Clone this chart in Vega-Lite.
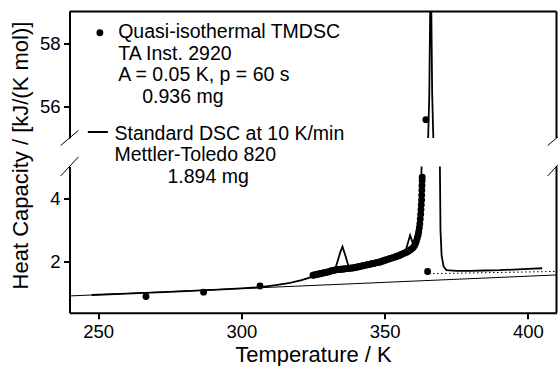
{
  "$schema": "https://vega.github.io/schema/vega-lite/v6.json",
  "padding": {"left": 8.5, "top": 10.5, "right": 0, "bottom": 0},
  "bounds": "flush",
  "spacing": 28,
  "config": {
    "font": "Liberation Sans",
    "view": {"stroke": null},
    "axis": {
      "grid": false,
      "labelFont": "Liberation Sans",
      "titleFont": "Liberation Sans",
      "labelColor": "black",
      "titleColor": "black",
      "domainColor": "black",
      "tickColor": "black",
      "domainWidth": 2,
      "tickWidth": 2,
      "tickSize": 6,
      "labelFontSize": 18.5,
      "labelPadding": 3.5,
      "titleFontSize": 22,
      "titleFontWeight": "normal"
    }
  },
  "datasets": {
    "dsc": [
      {"T": 247.7, "Cp": 0.96}, {"T": 260, "Cp": 1.0}, {"T": 275, "Cp": 1.06}, {"T": 290, "Cp": 1.12},
      {"T": 300, "Cp": 1.17}, {"T": 306, "Cp": 1.2}, {"T": 312, "Cp": 1.27}, {"T": 317, "Cp": 1.34},
      {"T": 321, "Cp": 1.43}, {"T": 325, "Cp": 1.54}, {"T": 328, "Cp": 1.62}, {"T": 331.8, "Cp": 1.74},
      {"T": 333, "Cp": 1.85}, {"T": 334.5, "Cp": 2.3}, {"T": 335.3, "Cp": 2.48}, {"T": 336.3, "Cp": 2.2},
      {"T": 337.6, "Cp": 1.8}, {"T": 339, "Cp": 1.79}, {"T": 342, "Cp": 1.84}, {"T": 346, "Cp": 1.92},
      {"T": 350, "Cp": 2.01}, {"T": 354, "Cp": 2.12}, {"T": 357.5, "Cp": 2.4}, {"T": 358.9, "Cp": 2.84},
      {"T": 360.1, "Cp": 2.52}, {"T": 361, "Cp": 2.62}, {"T": 361.8, "Cp": 2.9}, {"T": 362.3, "Cp": 3.4},
      {"T": 362.6, "Cp": 4.0}, {"T": 362.9, "Cp": 5.0}, {"T": 365.2, "Cp": 55}, {"T": 365.6, "Cp": 56.4},
      {"T": 365.95, "Cp": 59.5}, {"T": 366.1, "Cp": 80}, {"T": 366.25, "Cp": 59.5}, {"T": 366.6, "Cp": 56.4},
      {"T": 367.0, "Cp": 55}, {"T": 369.3, "Cp": 5}, {"T": 369.5, "Cp": 3}, {"T": 369.9, "Cp": 2.2},
      {"T": 370.6, "Cp": 1.85}, {"T": 371.6, "Cp": 1.74}, {"T": 375, "Cp": 1.72}, {"T": 380, "Cp": 1.72},
      {"T": 385, "Cp": 1.73}, {"T": 390, "Cp": 1.74}, {"T": 395, "Cp": 1.76}, {"T": 400, "Cp": 1.78},
      {"T": 405, "Cp": 1.8}
    ],
    "tmdsc": [
      {"T": 266.7, "Cp": 0.91}, {"T": 286.8, "Cp": 1.05}, {"T": 306.5, "Cp": 1.24},
      {"T": 325.0, "Cp": 1.58}, {"T": 325.5, "Cp": 1.59}, {"T": 326.0, "Cp": 1.6}, {"T": 326.5, "Cp": 1.61},
      {"T": 327.0, "Cp": 1.62}, {"T": 327.5, "Cp": 1.63}, {"T": 328.0, "Cp": 1.64}, {"T": 328.5, "Cp": 1.65},
      {"T": 329.0, "Cp": 1.66}, {"T": 329.5, "Cp": 1.67}, {"T": 330.0, "Cp": 1.68}, {"T": 330.5, "Cp": 1.69},
      {"T": 331.0, "Cp": 1.71}, {"T": 331.5, "Cp": 1.72}, {"T": 332.0, "Cp": 1.73}, {"T": 332.5, "Cp": 1.74},
      {"T": 333.0, "Cp": 1.75}, {"T": 333.5, "Cp": 1.76}, {"T": 334.0, "Cp": 1.76}, {"T": 334.5, "Cp": 1.77},
      {"T": 335.0, "Cp": 1.77}, {"T": 335.5, "Cp": 1.78}, {"T": 336.0, "Cp": 1.78}, {"T": 336.5, "Cp": 1.79},
      {"T": 337.0, "Cp": 1.79}, {"T": 337.5, "Cp": 1.8}, {"T": 338.0, "Cp": 1.8}, {"T": 338.5, "Cp": 1.81},
      {"T": 339.0, "Cp": 1.81}, {"T": 339.5, "Cp": 1.82}, {"T": 340.0, "Cp": 1.83}, {"T": 340.5, "Cp": 1.84},
      {"T": 341.0, "Cp": 1.85}, {"T": 341.5, "Cp": 1.86}, {"T": 342.0, "Cp": 1.87}, {"T": 342.5, "Cp": 1.88},
      {"T": 343.0, "Cp": 1.89}, {"T": 343.5, "Cp": 1.9}, {"T": 344.0, "Cp": 1.91}, {"T": 344.5, "Cp": 1.92},
      {"T": 345.0, "Cp": 1.93}, {"T": 345.5, "Cp": 1.94}, {"T": 346.0, "Cp": 1.95}, {"T": 346.5, "Cp": 1.96},
      {"T": 347.0, "Cp": 1.97}, {"T": 347.5, "Cp": 1.98}, {"T": 348.0, "Cp": 1.99}, {"T": 348.5, "Cp": 2.0},
      {"T": 349.0, "Cp": 2.02}, {"T": 349.5, "Cp": 2.03}, {"T": 350.0, "Cp": 2.05}, {"T": 350.5, "Cp": 2.06},
      {"T": 351.0, "Cp": 2.08}, {"T": 351.5, "Cp": 2.09}, {"T": 352.0, "Cp": 2.11}, {"T": 352.5, "Cp": 2.12},
      {"T": 353.0, "Cp": 2.14}, {"T": 353.5, "Cp": 2.15}, {"T": 354.0, "Cp": 2.17}, {"T": 354.5, "Cp": 2.18},
      {"T": 355.0, "Cp": 2.2}, {"T": 355.5, "Cp": 2.22}, {"T": 356.0, "Cp": 2.24}, {"T": 356.5, "Cp": 2.26},
      {"T": 357.0, "Cp": 2.28}, {"T": 357.5, "Cp": 2.3}, {"T": 358.0, "Cp": 2.32}, {"T": 358.5, "Cp": 2.35},
      {"T": 359.0, "Cp": 2.38}, {"T": 359.5, "Cp": 2.41}, {"T": 360.0, "Cp": 2.45}, {"T": 360.4, "Cp": 2.51},
      {"T": 360.8, "Cp": 2.58}, {"T": 361.1, "Cp": 2.66}, {"T": 361.4, "Cp": 2.75}, {"T": 361.7, "Cp": 2.85},
      {"T": 361.9, "Cp": 2.95}, {"T": 362.1, "Cp": 3.07}, {"T": 362.3, "Cp": 3.2}, {"T": 362.45, "Cp": 3.35},
      {"T": 362.6, "Cp": 3.5}, {"T": 362.7, "Cp": 3.65}, {"T": 362.8, "Cp": 3.8}, {"T": 362.9, "Cp": 3.95},
      {"T": 362.95, "Cp": 4.1}, {"T": 363.0, "Cp": 4.25}, {"T": 363.05, "Cp": 4.4}, {"T": 363.1, "Cp": 4.55},
      {"T": 363.12, "Cp": 4.66}, {"T": 364.4, "Cp": 55.58}, {"T": 365.0, "Cp": 1.7}
    ],
    "solid": [
      {"T": 240, "Cp": 0.93}, {"T": 410, "Cp": 1.59}
    ],
    "liquid": [
      {"T": 365.5, "Cp": 1.63}, {"T": 410, "Cp": 1.7}
    ],
    "one": [{}]
  },
  "resolve": {"scale": {"y": "independent"}},
  "vconcat": [
    {
      "width": 487,
      "height": 126.5,
      "layer": [
        {
          "data": {"name": "dsc"},
          "mark": {"type": "line", "clip": true, "color": "black", "strokeWidth": 1.8},
          "encoding": {
            "x": {"field": "T", "type": "quantitative", "scale": {"domain": [240, 410], "nice": false, "zero": false}, "axis": null},
            "y": {"field": "Cp", "type": "quantitative", "scale": {"domain": [55, 59], "nice": false, "zero": false},
                  "axis": {"values": [56, 58], "title": "Heat Capacity / [kJ/(K mol)]",
                           "titleX": -42.5, "titleY": 143.5, "titleAngle": -90,
                           "titleAlign": "center", "titleBaseline": "alphabetic"}}
          }
        },
        {
          "data": {"name": "tmdsc"},
          "mark": {"type": "point", "filled": true, "clip": true, "color": "black", "size": 48, "opacity": 1},
          "encoding": {
            "x": {"field": "T", "type": "quantitative", "scale": {"domain": [240, 410], "nice": false, "zero": false}},
            "y": {"field": "Cp", "type": "quantitative", "scale": {"domain": [55, 59], "nice": false, "zero": false}}
          }
        },
        {
          "data": {"name": "one"},
          "mark": {"type": "rule", "color": "black", "strokeWidth": 2},
          "encoding": {
            "x": {"datum": 240, "type": "quantitative", "scale": {"domain": [240, 410], "nice": false, "zero": false}},
            "x2": {"datum": 410},
            "y": {"datum": 59, "type": "quantitative", "scale": {"domain": [55, 59], "nice": false, "zero": false}}
          }
        },
        {
          "data": {"name": "one"},
          "mark": {"type": "rule", "color": "black", "strokeWidth": 2},
          "encoding": {
            "x": {"datum": 410, "type": "quantitative", "scale": {"domain": [240, 410], "nice": false, "zero": false}},
            "y": {"datum": 55, "type": "quantitative", "scale": {"domain": [55, 59], "nice": false, "zero": false}},
            "y2": {"datum": 59}
          }
        },
        {
          "data": {"name": "one"},
          "mark": {"type": "rule", "color": "black", "strokeWidth": 1},
          "encoding": {
            "x": {"datum": 236.9, "type": "quantitative", "scale": {"domain": [240, 410], "nice": false, "zero": false}},
            "x2": {"datum": 243.1},
            "y": {"datum": 54.76, "type": "quantitative", "scale": {"domain": [55, 59], "nice": false, "zero": false}},
            "y2": {"datum": 55.24}
          }
        },
        {
          "data": {"name": "one"},
          "mark": {"type": "rule", "color": "black", "strokeWidth": 1},
          "encoding": {
            "x": {"datum": 406.9, "type": "quantitative", "scale": {"domain": [240, 410], "nice": false, "zero": false}},
            "x2": {"datum": 413.1},
            "y": {"datum": 54.76, "type": "quantitative", "scale": {"domain": [55, 59], "nice": false, "zero": false}},
            "y2": {"datum": 55.24}
          }
        },
        {
          "data": {"name": "one"},
          "mark": {"type": "point", "filled": true, "color": "black", "size": 48, "opacity": 1},
          "encoding": {
            "x": {"datum": 250.6, "type": "quantitative", "scale": {"domain": [240, 410], "nice": false, "zero": false}},
            "y": {"datum": 58.33, "type": "quantitative", "scale": {"domain": [55, 59], "nice": false, "zero": false}}
          }
        },
        {
          "data": {"name": "one"},
          "mark": {"type": "rule", "color": "black", "strokeWidth": 2},
          "encoding": {
            "x": {"datum": 246.4, "type": "quantitative", "scale": {"domain": [240, 410], "nice": false, "zero": false}},
            "x2": {"datum": 253.4},
            "y": {"datum": 55.19, "type": "quantitative", "scale": {"domain": [55, 59], "nice": false, "zero": false}}
          }
        },
        {
          "data": {"name": "one"},
          "mark": {"type": "text", "align": "left", "baseline": "alphabetic", "fontSize": 19.5, "lineHeight": 21.5, "color": "black"},
          "encoding": {
            "x": {"datum": 257.0, "type": "quantitative", "scale": {"domain": [240, 410], "nice": false, "zero": false}},
            "y": {"datum": 58.16, "type": "quantitative", "scale": {"domain": [55, 59], "nice": false, "zero": false}},
            "text": {"value": ["Quasi-isothermal TMDSC", "TA Inst. 2920", "A = 0.05 K, p = 60 s"]}
          }
        },
        {
          "data": {"name": "one"},
          "mark": {"type": "text", "align": "left", "baseline": "alphabetic", "fontSize": 19.5, "dx": 24, "dy": 64.5, "color": "black"},
          "encoding": {
            "x": {"datum": 257.0, "type": "quantitative", "scale": {"domain": [240, 410], "nice": false, "zero": false}},
            "y": {"datum": 58.16, "type": "quantitative", "scale": {"domain": [55, 59], "nice": false, "zero": false}},
            "text": {"value": "0.936 mg"}
          }
        },
        {
          "data": {"name": "one"},
          "mark": {"type": "text", "align": "left", "baseline": "alphabetic", "fontSize": 19.5, "lineHeight": 21.5, "color": "black"},
          "encoding": {
            "x": {"datum": 255.7, "type": "quantitative", "scale": {"domain": [240, 410], "nice": false, "zero": false}},
            "y": {"datum": 54.95, "type": "quantitative", "scale": {"domain": [55, 59], "nice": false, "zero": false}},
            "text": {"value": ["Standard DSC at 10 K/min", "Mettler-Toledo 820"]}
          }
        },
        {
          "data": {"name": "one"},
          "mark": {"type": "text", "align": "left", "baseline": "alphabetic", "fontSize": 19.5, "dx": 53, "dy": 43, "color": "black"},
          "encoding": {
            "x": {"datum": 255.7, "type": "quantitative", "scale": {"domain": [240, 410], "nice": false, "zero": false}},
            "y": {"datum": 54.95, "type": "quantitative", "scale": {"domain": [55, 59], "nice": false, "zero": false}},
            "text": {"value": "1.894 mg"}
          }
        }
      ]
    },
    {
      "width": 487,
      "height": 146.3,
      "layer": [
        {
          "data": {"name": "solid"},
          "mark": {"type": "line", "clip": true, "color": "black", "strokeWidth": 1},
          "encoding": {
            "x": {"field": "T", "type": "quantitative", "scale": {"domain": [240, 410], "nice": false, "zero": false},
                  "axis": {"values": [250, 300, 350, 400], "title": "Temperature / K", "titlePadding": 4}},
            "y": {"field": "Cp", "type": "quantitative", "scale": {"domain": [0.4, 5.0], "nice": false, "zero": false},
                  "axis": {"values": [2, 4], "title": null}}
          }
        },
        {
          "data": {"name": "liquid"},
          "mark": {"type": "line", "clip": true, "color": "black", "strokeWidth": 1, "strokeDash": [1.5, 2.5]},
          "encoding": {
            "x": {"field": "T", "type": "quantitative", "scale": {"domain": [240, 410], "nice": false, "zero": false}},
            "y": {"field": "Cp", "type": "quantitative", "scale": {"domain": [0.4, 5.0], "nice": false, "zero": false}}
          }
        },
        {
          "data": {"name": "dsc"},
          "mark": {"type": "line", "clip": true, "color": "black", "strokeWidth": 1.8},
          "encoding": {
            "x": {"field": "T", "type": "quantitative", "scale": {"domain": [240, 410], "nice": false, "zero": false}},
            "y": {"field": "Cp", "type": "quantitative", "scale": {"domain": [0.4, 5.0], "nice": false, "zero": false}}
          }
        },
        {
          "data": {"name": "tmdsc"},
          "mark": {"type": "point", "filled": true, "clip": true, "color": "black", "size": 48, "opacity": 1},
          "encoding": {
            "x": {"field": "T", "type": "quantitative", "scale": {"domain": [240, 410], "nice": false, "zero": false}},
            "y": {"field": "Cp", "type": "quantitative", "scale": {"domain": [0.4, 5.0], "nice": false, "zero": false}}
          }
        },
        {
          "data": {"name": "one"},
          "mark": {"type": "rule", "color": "black", "strokeWidth": 2},
          "encoding": {
            "x": {"datum": 410, "type": "quantitative", "scale": {"domain": [240, 410], "nice": false, "zero": false}},
            "y": {"datum": 0.4, "type": "quantitative", "scale": {"domain": [0.4, 5.0], "nice": false, "zero": false}},
            "y2": {"datum": 5.0}
          }
        },
        {
          "data": {"name": "one"},
          "mark": {"type": "rule", "color": "black", "strokeWidth": 1},
          "encoding": {
            "x": {"datum": 236.9, "type": "quantitative", "scale": {"domain": [240, 410], "nice": false, "zero": false}},
            "x2": {"datum": 243.1},
            "y": {"datum": 4.7, "type": "quantitative", "scale": {"domain": [0.4, 5.0], "nice": false, "zero": false}},
            "y2": {"datum": 5.3}
          }
        },
        {
          "data": {"name": "one"},
          "mark": {"type": "rule", "color": "black", "strokeWidth": 1},
          "encoding": {
            "x": {"datum": 406.9, "type": "quantitative", "scale": {"domain": [240, 410], "nice": false, "zero": false}},
            "x2": {"datum": 413.1},
            "y": {"datum": 4.7, "type": "quantitative", "scale": {"domain": [0.4, 5.0], "nice": false, "zero": false}},
            "y2": {"datum": 5.3}
          }
        }
      ]
    }
  ]
}
